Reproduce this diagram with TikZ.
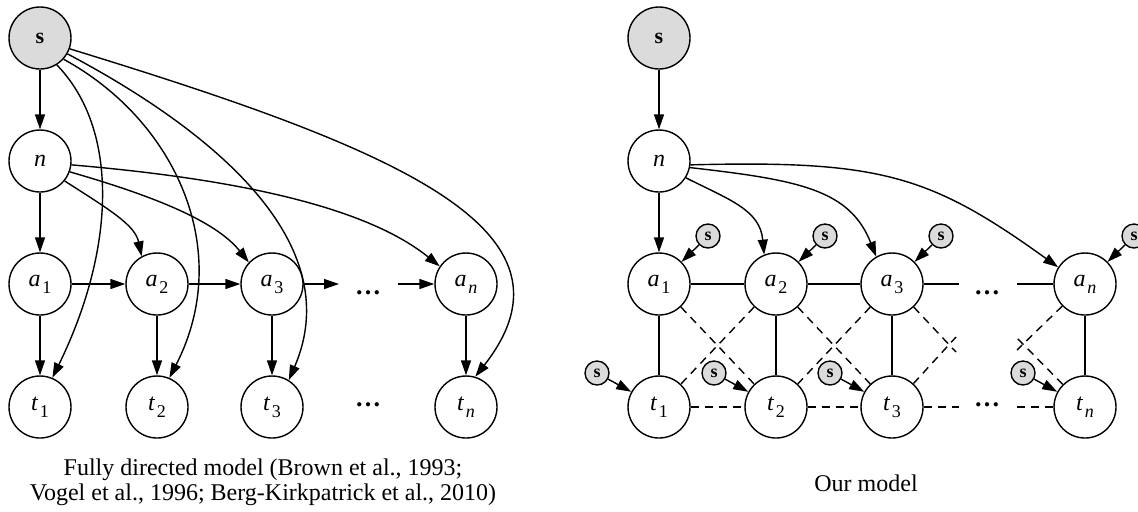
\documentclass[tikz,border=0pt]{standalone}
\usepackage{fontspec}
\setmainfont{Liberation Serif}
\usetikzlibrary{arrows.meta}
\definecolor{obsgray}{gray}{0.86}
\newcommand{\sublab}[2]{\textit{#1}\kern0.8pt\raisebox{-3.5pt}{\fontsize{9}{10}\selectfont #2}}
\tikzset{
  var/.style={circle,draw,minimum size=31pt,inner sep=0pt,font=\fontsize{12}{14}\selectfont},
  obs/.style={var,fill=obsgray,font=\fontsize{11}{13}\selectfont\bfseries},
  side/.style={circle,draw,fill=obsgray,minimum size=12pt,inner sep=0pt,font=\fontsize{9}{10}\selectfont\bfseries},
  pair/.style={dash pattern=on 4pt off 3pt},
  dots/.style={inner sep=0pt,font=\fontsize{13}{15}\selectfont\bfseries},
  caption/.style={align=center,font=\fontsize{12}{12.5}\selectfont},
}
\begin{document}
\begin{tikzpicture}[x=0.5pt,y=0.5pt,line width=0.7pt,>={Triangle[length=7.5pt,width=5pt]}]
    \useasboundingbox (0,0) rectangle (1138,-511);

    % fully directed model
    \node[obs] (ls) at (40,-38) {s};
    \node[var] (ln) at (40,-161) {\textit{n}};
    \node[var] (la1) at (40,-284) {\sublab{a}{1}};
    \node[var] (la2) at (157,-284) {\sublab{a}{2}};
    \node[var] (la3) at (272,-284) {\sublab{a}{3}};
    \node[var] (lan) at (466,-284) {\sublab{a}{\textit{n}}};
    \node[var] (lt1) at (40,-407) {\sublab{t}{1}};
    \node[var] (lt2) at (157,-407) {\sublab{t}{2}};
    \node[var] (lt3) at (272,-407) {\sublab{t}{3}};
    \node[var] (ltn) at (466,-407) {\sublab{t}{\textit{n}}};
    \node[dots] (ladots) at (368,-293) {…};
    \node[dots] (ltdots) at (368,-405) {…};
    \coordinate (la3out) at (339,-284);
    \coordinate (lanin) at (398,-284);

    \draw[->] (ls) -- (ln);
    \draw[->] (ln) -- (la1);
    \draw[->] (ls.-58) .. controls (120,-130) and (115,-250) .. (lt1.67);
    \draw[->] (ls.-42) .. controls (175,-120) and (235,-250) .. (lt2.67);
    \draw[->] (ls.-30) .. controls (230,-140) and (345,-250) .. (lt3.58);
    \draw[->] (ls.-20) .. controls (400,-150) and (590,-230) .. (ltn.73);
    \draw[->] (ln.-39) .. controls (110,-210) and (135,-225) .. (la2.119);
    \draw[->] (ln.-20) .. controls (150,-195) and (215,-220) .. (la3.137);
    \draw[->] (ln.-7) .. controls (250,-180) and (370,-210) .. (lan.146);
    \draw[->] (la1) -- (la2);
    \draw[->] (la2) -- (la3);
    \draw[->] (la3) -- (la3out);
    \draw[->] (lanin) -- (lan);
    \draw[->] (la1) -- (lt1);
    \draw[->] (la2) -- (lt2);
    \draw[->] (la3) -- (lt3);
    \draw[->] (lan) -- (ltn);

    \node[caption] (lcap) at (263,-482) {Fully directed model (Brown et al., 1993;\\Vogel et al., 1996; Berg-Kirkpatrick et al., 2010)};

    % our model
    \node[obs] (rs) at (659,-38) {s};
    \node[var] (rn) at (659,-161) {\textit{n}};
    \node[var] (ra1) at (659,-284) {\sublab{a}{1}};
    \node[var] (ra2) at (776,-284) {\sublab{a}{2}};
    \node[var] (ra3) at (892,-284) {\sublab{a}{3}};
    \node[var] (ran) at (1085,-284) {\sublab{a}{\textit{n}}};
    \node[var] (rt1) at (659,-407) {\sublab{t}{1}};
    \node[var] (rt2) at (776,-407) {\sublab{t}{2}};
    \node[var] (rt3) at (892,-407) {\sublab{t}{3}};
    \node[var] (rtn) at (1085,-407) {\sublab{t}{\textit{n}}};
    \node[dots] (radots) at (987,-293) {…};
    \node[dots] (rtdots) at (987,-405) {…};

    \node[side] (sa1) at (708,-236) {s};
    \node[side] (sa2) at (825,-236) {s};
    \node[side] (sa3) at (941,-236) {s};
    \node[side] (san) at (1134,-236) {s};
    \node[side] (st1) at (597,-373) {s};
    \node[side] (st2) at (714,-373) {s};
    \node[side] (st3) at (830,-373) {s};
    \node[side] (stn) at (1023,-373) {s};

    \coordinate (ra3h) at (959,-284);
    \coordinate (ranh) at (1017,-284);
    \coordinate (rt3h) at (959,-407);
    \coordinate (rtnh) at (1017,-407);
    \coordinate (ra3x) at (956,-352);
    \coordinate (rt3x) at (956,-337);
    \coordinate (ranx) at (1017,-350);
    \coordinate (rtnx) at (1017,-338);

    \draw[->] (rs) -- (rn);
    \draw[->] (rn) -- (ra1);
    \draw[->] (rn.-32) .. controls (730,-200) and (760,-210) .. (ra2.112);
    \draw[->] (rn.-12) .. controls (800,-180) and (850,-190) .. (ra3.120);
    \draw[->] (rn.-7) .. controls (880,-160) and (930,-175) .. (ran.148);

    \draw[->] (sa1) -- (ra1);
    \draw[->] (sa2) -- (ra2);
    \draw[->] (sa3) -- (ra3);
    \draw[->] (san) -- (ran);
    \draw[->] (st1) -- (rt1);
    \draw[->] (st2) -- (rt2);
    \draw[->] (st3) -- (rt3);
    \draw[->] (stn) -- (rtn);

    \draw (ra1) -- (ra2) -- (ra3) -- (ra3h);
    \draw (ranh) -- (ran);
    \draw (ra1) -- (rt1);
    \draw (ra2) -- (rt2);
    \draw (ra3) -- (rt3);
    \draw (ran) -- (rtn);
    \draw[pair] (rt1) -- (rt2) -- (rt3) -- (rt3h);
    \draw[pair] (rtnh) -- (rtn);
    \draw[pair] (ra1) -- (rt2);
    \draw[pair] (ra2) -- (rt1);
    \draw[pair] (ra2) -- (rt3);
    \draw[pair] (ra3) -- (rt2);
    \draw[pair] (ra3) -- (ra3x);
    \draw[pair] (rt3) -- (rt3x);
    \draw[pair] (ran) -- (ranx);
    \draw[pair] (rtn) -- (rtnx);

    \node[caption] (rcap) at (866,-483) {Our model};
\end{tikzpicture}
\end{document}
